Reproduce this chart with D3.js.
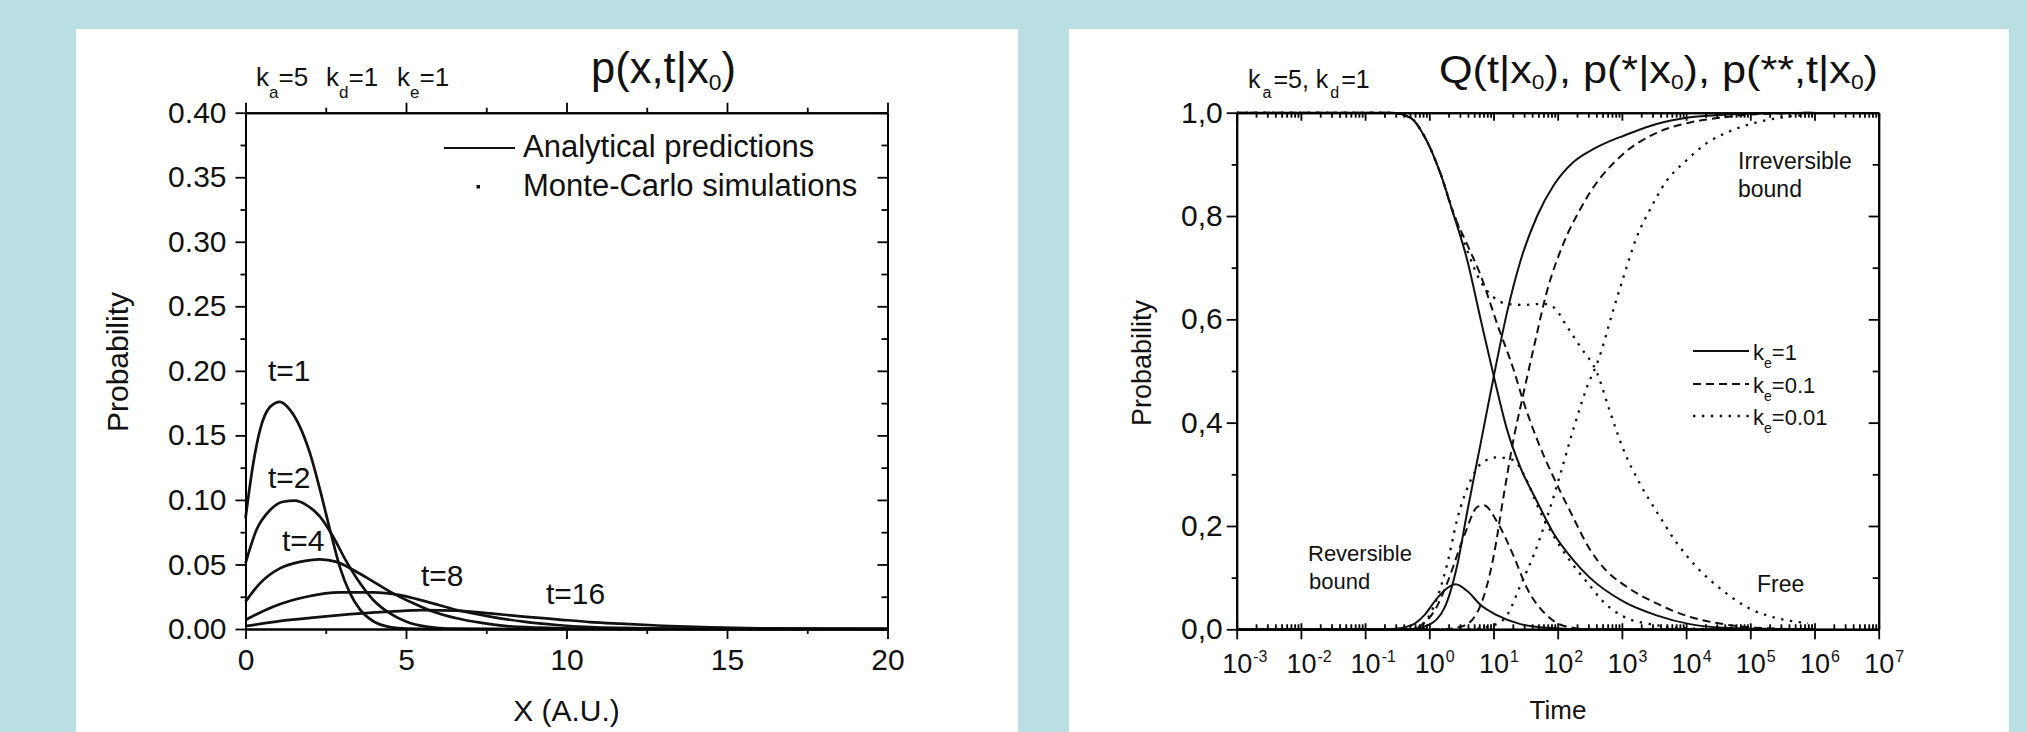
<!DOCTYPE html>
<html><head><meta charset="utf-8">
<script src="https://cdn.jsdelivr.net/npm/d3@7"></script>
<style>
html,body{margin:0;padding:0;background:#b9dfe2;}
svg{display:block;}
</style></head><body>
<svg id="c" width="2027" height="732"></svg>
<script>
// ---------------- LEFT PANEL DATA : p(x,t|x0) ----------------
const curveLabels = ["t=1","t=2","t=4","t=8","t=16"];
const x_t1  = [0,0.24,0.45,0.76,1.07,1.38,1.69,2.01,2.32,2.63,2.94,3.25,3.57,3.98,4.5,5.02,6,10,20];
const p_t1  = [0.0857,0.128,0.154,0.172,0.176,0.17,0.157,0.136,0.108,0.077,0.048,0.028,0.015,0.006,0.0015,0.0003,0,0,0];
const x_t2  = [0,0.34,0.76,1.17,1.54,1.9,2.32,2.73,3.15,3.57,3.98,4.5,5.02,5.64,6.27,8,20];
const p_t2  = [0.0509,0.0767,0.092,0.0986,0.0994,0.096,0.087,0.0715,0.052,0.0354,0.0225,0.0121,0.0057,0.0018,0.0004,0,0];
const x_t4  = [0,0.45,1.07,1.69,2.32,2.84,3.36,3.98,4.6,5.23,5.85,6.58,7.31,8.14,9.18,10.2,12,20];
const p_t4  = [0.0212,0.0354,0.047,0.052,0.054,0.052,0.0457,0.0367,0.0276,0.0199,0.0134,0.0083,0.0049,0.0023,0.001,0.0004,0.0001,0];
const x_t8  = [0,0.86,1.9,2.94,3.98,4.81,5.64,6.58,7.62,8.66,9.7,10.74,11.67,13,15,20];
const p_t8  = [0.007,0.0173,0.025,0.0284,0.0284,0.0263,0.0212,0.0147,0.0096,0.0057,0.0031,0.0015,0.0008,0.0003,0.0001,0];
const x_t16 = [0,1.38,2.94,4.5,5.54,6.58,7.62,8.66,9.7,10.74,11.67,13,14.5,16,18,20];
const p_t16 = [0.0023,0.007,0.0108,0.0134,0.0147,0.0142,0.0121,0.0096,0.0075,0.0054,0.0041,0.0025,0.0013,0.0006,0.0002,0.0001];
const leftXTicks = [0,5,10,15,20];
const leftYTicks = [0,0.05,0.10,0.15,0.20,0.25,0.30,0.35,0.40];
const leftLegend = ["Analytical predictions","Monte-Carlo simulations"];

// ---------------- RIGHT PANEL DATA (log10 time, probability) ----------------
// k_e = 1 (solid)
const lt_free_1 = [-3,-0.6,-0.29,-0.08,0.18,0.36,0.59,0.80,1.01,1.21,1.42,1.68,1.93,2.25,2.5,3.02,3.54,4.06,4.58,5.2,6];
const p_free_1  = [1,1,0.99,0.955,0.88,0.81,0.715,0.60,0.487,0.387,0.313,0.247,0.187,0.133,0.10,0.054,0.027,0.01,0.003,0.001,0];
const lt_rev_1  = [-3,-0.6,-0.29,-0.08,0.12,0.28,0.41,0.6,0.8,1.06,1.42,1.83,2.5,6];
const p_rev_1   = [0,0,0.007,0.027,0.06,0.08,0.087,0.073,0.047,0.027,0.01,0.003,0,0];
const lt_irr_1  = [-3,-0.3,-0.03,0.23,0.44,0.59,0.80,1.0,1.21,1.42,1.68,1.94,2.25,2.56,2.87,3.02,3.54,4.06,4.58,5.2,6];
const p_irr_1   = [0,0,0.007,0.04,0.127,0.227,0.36,0.487,0.613,0.713,0.80,0.86,0.905,0.93,0.948,0.955,0.978,0.991,0.996,0.999,1];
// k_e = 0.1 (dashed)
const lt_free_01 = [-3,-0.6,-0.29,-0.08,0.18,0.36,0.59,0.80,1.06,1.32,1.45,1.68,1.94,2.2,2.5,2.76,3.02,3.54,4.06,4.58,5.09,6];
const p_free_01  = [1,1,0.99,0.955,0.88,0.81,0.745,0.685,0.59,0.5,0.447,0.367,0.293,0.227,0.155,0.113,0.087,0.05,0.024,0.01,0.003,0];
const lt_rev_01  = [-3,-0.3,-0.1,0.1,0.28,0.54,0.75,0.85,1.06,1.32,1.52,1.83,2.09,2.5,6];
const p_rev_01   = [0,0,0.01,0.04,0.09,0.18,0.237,0.24,0.207,0.14,0.08,0.027,0.007,0,0];
const lt_irr_01  = [-3,0.2,0.54,0.8,1.0,1.16,1.32,1.45,1.63,1.83,2.09,2.35,2.5,3.02,3.54,4.06,4.58,5.09,6];
const p_irr_01   = [0,0,0.007,0.047,0.14,0.26,0.373,0.447,0.547,0.653,0.747,0.813,0.845,0.92,0.961,0.981,0.991,0.997,1];
// k_e = 0.01 (dotted)
const lt_free_001 = [-3,-0.6,-0.29,-0.08,0.18,0.38,0.59,0.80,1.0,1.21,1.47,1.78,1.94,2.14,2.35,2.61,2.81,3.02,3.28,3.54,3.85,4.16,4.58,4.99,5.4,5.9];
const p_free_001  = [1,1,0.99,0.955,0.88,0.805,0.733,0.673,0.643,0.63,0.628,0.63,0.623,0.587,0.547,0.497,0.423,0.349,0.282,0.228,0.168,0.121,0.074,0.04,0.022,0.012];
const lt_rev_001  = [-3,-0.3,-0.08,0.12,0.28,0.435,0.64,0.8,1.06,1.32,1.47,1.73,2.04,2.35,2.5,2.66,3.02,3.54,4.2,6];
const p_rev_001   = [0,0,0.013,0.06,0.127,0.213,0.287,0.32,0.333,0.327,0.30,0.227,0.16,0.107,0.085,0.06,0.025,0.008,0.001,0];
const lt_irr_001  = [-3,0.6,1.0,1.21,1.42,1.63,1.83,2.04,2.25,2.46,2.63,2.87,3.02,3.23,3.44,3.69,4.0,4.32,4.68,5.09,5.51,5.87];
const p_irr_001   = [0,0,0.008,0.027,0.085,0.145,0.215,0.30,0.39,0.47,0.52,0.62,0.68,0.759,0.813,0.867,0.907,0.941,0.964,0.981,0.991,0.996];
const rightYTicks = [0,0.2,0.4,0.6,0.8,1.0];
const rightXExponents = [-3,-2,-1,0,1,2,3,4,5,6,7];
const rightLegend = ["=1","=0.1","=0.01"];

// ---------------- DRAWING ----------------
const FONT = "'Liberation Sans', Arial, Helvetica, sans-serif";
const svg = d3.select("#c");
svg.append("rect").attr("width",2027).attr("height",732).attr("fill","#b9dfe2");
svg.append("rect").attr("x",76).attr("y",29).attr("width",942).attr("height",703).attr("fill","#fff");
svg.append("rect").attr("x",1069).attr("y",29).attr("width",940).attr("height",703).attr("fill","#fff");

function styleAxis(g, fs){
  g.attr("font-family",FONT).attr("font-size",fs||30);
  g.select(".domain").attr("stroke","#000").attr("stroke-width",2);
  g.selectAll(".tick line").attr("stroke","#000").attr("stroke-width",1.8);
  g.selectAll(".tick text").attr("fill","#111");
}
function txt(sel, x, y, s, fs, anchor){
  return sel.append("text").attr("x",x).attr("y",y).attr("font-family",FONT)
    .attr("font-size",fs).attr("fill","#111").attr("text-anchor",anchor||"start").text(s);
}
// rich text: parts = [[string, isSubscript], ...]
function rich(sel, x, y, parts, fs, subfs, subdy, gap){
  const t = sel.append("text").attr("x",x).attr("y",y).attr("font-family",FONT)
    .attr("font-size",fs).attr("fill","#111");
  let down = false;
  parts.forEach(([s,sub])=>{
    const ts = t.append("tspan").text(s);
    if(sub){ ts.attr("font-size",subfs).attr("dy",subdy).attr("dx",gap||0); down = true; }
    else if(down){ ts.attr("dy",-subdy).attr("dx",gap||0); down = false; }
  });
  return t;
}

// ===== LEFT PANEL =====
const xL = d3.scaleLinear().domain([0,20]).range([245.5,887.5]);
const yL = d3.scaleLinear().domain([0,0.4]).range([629,112.7]);
const L = svg.append("g");
const lineL = d3.line().x(d=>xL(d[0])).y(d=>yL(d[1])).curve(d3.curveMonotoneX);
[[x_t1,p_t1],[x_t2,p_t2],[x_t4,p_t4],[x_t8,p_t8],[x_t16,p_t16]].forEach(([xs,ps])=>{
  L.append("path").attr("d",lineL(xs.map((v,i)=>[v,ps[i]])))
   .attr("fill","none").attr("stroke","#111").attr("stroke-width",2.7).attr("stroke-linejoin","round");
});
const minorLX = [2.5,7.5,12.5,17.5];
const minorLY = d3.range(0.025,0.4,0.05);
L.append("g").attr("transform","translate(0,629)")
 .call(d3.axisBottom(xL).tickValues(minorLX).tickSize(5).tickSizeOuter(0).tickFormat(""))
 .call(g=>styleAxis(g));
L.append("g").attr("transform","translate(0,629)")
 .call(d3.axisBottom(xL).tickValues(leftXTicks).tickSize(10).tickSizeOuter(0).tickPadding(10).tickFormat(d3.format("d")))
 .call(g=>styleAxis(g,30));
L.append("g").attr("transform","translate(0,112.7)")
 .call(d3.axisTop(xL).tickValues(minorLX).tickSize(5).tickSizeOuter(0).tickFormat(""))
 .call(g=>styleAxis(g));
L.append("g").attr("transform","translate(0,112.7)")
 .call(d3.axisTop(xL).tickValues(leftXTicks).tickSize(10).tickSizeOuter(0).tickFormat(""))
 .call(g=>styleAxis(g));
L.append("g").attr("transform","translate(245.5,0)")
 .call(d3.axisLeft(yL).tickValues(minorLY).tickSize(5).tickSizeOuter(0).tickFormat(""))
 .call(g=>styleAxis(g));
L.append("g").attr("transform","translate(245.5,0)")
 .call(d3.axisLeft(yL).tickValues(leftYTicks).tickSize(10).tickSizeOuter(0).tickPadding(9).tickFormat(d3.format(".2f")))
 .call(g=>styleAxis(g,30));
L.append("g").attr("transform","translate(887.5,0)")
 .call(d3.axisRight(yL).tickValues(minorLY).tickSize(-6).tickSizeOuter(0).tickFormat(""))
 .call(g=>styleAxis(g));
L.append("g").attr("transform","translate(887.5,0)")
 .call(d3.axisRight(yL).tickValues(leftYTicks).tickSize(-10).tickSizeOuter(0).tickFormat(""))
 .call(g=>styleAxis(g));

// curve labels
const labPos = [[268,381],[268,488],[282,551],[421,586],[546,604]];
curveLabels.forEach((s,i)=>txt(L,labPos[i][0],labPos[i][1],s,30));
// axis titles
txt(L,566.5,721,"X (A.U.)",30,"middle");
L.append("text").attr("transform","translate(128,362) rotate(-90)").attr("text-anchor","middle")
 .attr("font-family",FONT).attr("font-size",30).attr("fill","#111").text("Probability");
// legend
L.append("line").attr("x1",444).attr("x2",515).attr("y1",148).attr("y2",148).attr("stroke","#111").attr("stroke-width",2);
L.append("rect").attr("x",476.5).attr("y",185).attr("width",3.5).attr("height",3.5).attr("fill","#111");
txt(L,523,157,leftLegend[0],31);
txt(L,523,196,leftLegend[1],31);
// parameters
rich(L,256,86,[["k",0],["a",1],["=5",0]],26,17,12);
rich(L,326,86,[["k",0],["d",1],["=1",0]],26,17,12);
rich(L,397,86,[["k",0],["e",1],["=1",0]],26,17,12);
// title
{
  const t = rich(L,591,83,[["p(x,t|x",0],["0",1],[")",0]],42,22,7);
  const w = t.node().getComputedTextLength();
  t.attr("font-size",42*145/w);
  t.selectAll("tspan").filter((d,i)=>i===1).attr("font-size",22*145/w);
}

// ===== RIGHT PANEL =====
const xR = d3.scaleLog().domain([1e-3,1e7]).range([1236.7,1878.7]);
const yR = d3.scaleLinear().domain([0,1]).range([629.3,112.7]);
const R = svg.append("g");
const lineR = d3.line().x(d=>xR(Math.pow(10,d[0]))).y(d=>yR(d[1])).curve(d3.curveMonotoneX);
const styles = {solid:null, dashed:"8,5", dotted:"2.4,6.5"};
const seriesR = [
  [lt_free_1,p_free_1,"solid"],[lt_rev_1,p_rev_1,"solid"],[lt_irr_1,p_irr_1,"solid"],
  [lt_free_01,p_free_01,"dashed"],[lt_rev_01,p_rev_01,"dashed"],[lt_irr_01,p_irr_01,"dashed"],
  [lt_free_001,p_free_001,"dotted"],[lt_rev_001,p_rev_001,"dotted"],[lt_irr_001,p_irr_001,"dotted"]
];
seriesR.forEach(([ls,ps,st])=>{
  R.append("path").attr("d",lineR(ls.map((v,i)=>[v,ps[i]])))
   .attr("fill","none").attr("stroke","#111").attr("stroke-width",st==="dotted"?2.3:2)
   .attr("stroke-dasharray",styles[st]);
});
const majR = rightXExponents.map(e=>Math.pow(10,e));
const minR = [];
for(let e=-3;e<7;e++) for(let k=2;k<10;k++) minR.push(k*Math.pow(10,e));
const minorRY = [0.1,0.3,0.5,0.7,0.9];
// bottom
R.append("g").attr("transform","translate(0,629.3)")
 .call(d3.axisBottom(xR).tickValues(minR).tickSize(-5).tickSizeOuter(0).tickFormat(""))
 .call(g=>styleAxis(g));
R.append("g").attr("transform","translate(0,629.3)")
 .call(d3.axisBottom(xR).tickValues(majR).tickSize(-6).tickSizeOuter(0).tickFormat(""))
 .call(g=>styleAxis(g));
const gxR = R.append("g").attr("transform","translate(0,629.3)")
 .call(d3.axisBottom(xR).tickValues(majR).tickSize(10).tickSizeOuter(0).tickFormat(""))
 .call(g=>styleAxis(g));
gxR.selectAll(".tick").each(function(d){
  const g = d3.select(this);
  g.select("text").remove();
  const e = Math.round(Math.log10(d));
  const t = g.append("text").attr("x",-15).attr("y",44).attr("text-anchor","start")
    .attr("font-family",FONT).attr("font-size",27).attr("fill","#111");
  t.append("tspan").text("10");
  t.append("tspan").attr("dy",-11.5).attr("dx",1).attr("font-size",16).text(String(e));
});
// top
R.append("g").attr("transform","translate(0,112.7)")
 .call(d3.axisTop(xR).tickValues(minR).tickSize(-5).tickSizeOuter(0).tickFormat(""))
 .call(g=>styleAxis(g));
R.append("g").attr("transform","translate(0,112.7)")
 .call(d3.axisTop(xR).tickValues(majR).tickSize(-8).tickSizeOuter(0).tickFormat(""))
 .call(g=>styleAxis(g));
// left
R.append("g").attr("transform","translate(1236.7,0)")
 .call(d3.axisLeft(yR).tickValues(minorRY).tickSize(5).tickSizeOuter(0).tickFormat(""))
 .call(g=>styleAxis(g));
R.append("g").attr("transform","translate(1236.7,0)")
 .call(d3.axisLeft(yR).tickValues(rightYTicks).tickSize(10).tickSizeOuter(0).tickPadding(4)
   .tickFormat(d=>d3.format(".1f")(d).replace(".",",")))
 .call(g=>styleAxis(g,30));
// right
R.append("g").attr("transform","translate(1878.7,0)")
 .call(d3.axisRight(yR).tickValues(minorRY).tickSize(-6).tickSizeOuter(0).tickFormat(""))
 .call(g=>styleAxis(g));
R.append("g").attr("transform","translate(1878.7,0)")
 .call(d3.axisRight(yR).tickValues(rightYTicks).tickSize(-10).tickSizeOuter(0).tickFormat(""))
 .call(g=>styleAxis(g));

// axis titles
txt(R,1558,719,"Time",26,"middle");
R.append("text").attr("transform","translate(1151,363) rotate(-90)").attr("text-anchor","middle")
 .attr("font-family",FONT).attr("font-size",27).attr("fill","#111").text("Probability");
// annotations
txt(R,1738,169,"Irreversible",23);
txt(R,1738,197,"bound",23);
txt(R,1308,561,"Reversible",22);
txt(R,1309,589,"bound",22);
txt(R,1757,592,"Free",23);
// legend
const legY = [351,384,416];
const legSt = ["solid","dashed","dotted"];
legY.forEach((y,i)=>{
  R.append("line").attr("x1",1693).attr("x2",1749).attr("y1",y).attr("y2",y)
   .attr("stroke","#111").attr("stroke-width",legSt[i]==="dotted"?2.3:2).attr("stroke-dasharray",styles[legSt[i]]);
  rich(R,1753,y+9,[["k",0],["e",1],[rightLegend[i],0]],22,14,8);
});
// parameters
rich(R,1248,88,[["k",0],["a",1],["=5, k",0],["d",1],["=1",0]],25,16,10,2);
// title
{
  const t = rich(R,0,0,[["Q(t|x",0],["0",1],["), p(*|x",0],["0",1],["), p(**,t|x",0],["0",1],[")",0]],38,20,6);
  const w = t.node().getComputedTextLength();
  t.attr("transform",`translate(1439,83) scale(${439/w},1)`);
}
</script></body></html>
